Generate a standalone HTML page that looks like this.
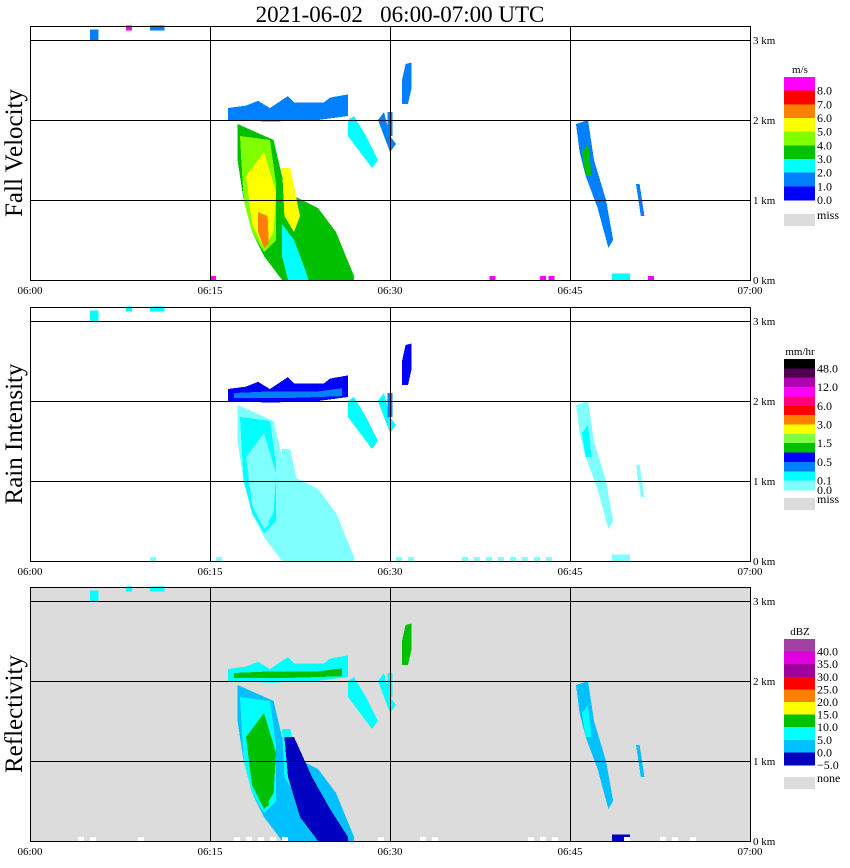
<!DOCTYPE html>
<html><head><meta charset="utf-8"><style>
html,body{margin:0;padding:0;background:#fff;width:850px;height:868px;overflow:hidden}
svg text{font-family:"Liberation Serif",serif}
</style></head><body>
<svg id="chart" width="850" height="868" xmlns="http://www.w3.org/2000/svg" shape-rendering="crispEdges">
<text x="400" y="22" font-size="23" text-anchor="middle" xml:space="preserve" style="white-space:pre">2021-06-02   06:00-07:00 UTC</text>
<g id="panels"></g>
</svg>
<script>
// ---- data (time in minutes after 06:00, height in km) ----
const shapeNames = ["top-left-a","top-left-b","top-left-c","band-outer","band-inner","shaft-outer","shaft-left-core","shaft-yellow","orange-core","cyan-patch","second-streak","dbz-dark-core","streak-27","streak-29","line-30","streak-31","east-streak","east-inner","east-right","bottom-blob-49"];
const shapePoints = [
 [[5,3.0],[5,3.13],[5.7,3.13],[5.7,3.0]],
 [[8,3.12],[8,3.18],[8.5,3.18],[8.5,3.12]],
 [[10,3.12],[10,3.18],[11.2,3.18],[11.2,3.12]],
 [[16.5,2.0],[16.5,2.15],[18,2.18],[19,2.24],[20,2.15],[21.5,2.3],[22,2.22],[24.5,2.22],[25,2.28],[26.5,2.32],[26.5,2.05],[24,2.0],[20,1.98]],
 [[17,2.04],[17,2.1],[20,2.12],[24,2.12],[26,2.16],[26,2.06],[22,2.04]],
 [[17.3,1.95],[20.3,1.75],[21,1.3],[22,1.05],[24,0.9],[25.5,0.6],[27,0.05],[27,0],[21,0],[19.5,0.3],[18.5,0.6],[17.8,1.0],[17.3,1.5]],
 [[17.5,1.8],[20,1.75],[20.5,1.2],[20.5,0.5],[19.5,0.35],[18.5,0.6],[17.8,1.0]],
 [[18,1.3],[19.5,1.6],[20.5,1.1],[20.3,0.6],[19.5,0.4],[18.5,0.7]],
 [[19,0.85],[19.8,0.8],[19.9,0.45],[19.5,0.4],[19,0.6]],
 [[21,0.7],[22,0.5],[23,0.1],[23.2,0],[21.5,0],[21,0.3]],
 [[21,1.4],[21.7,1.4],[22.5,0.8],[22,0.6],[21.2,0.8]],
 [[21.2,1.3],[22,1.3],[23.5,0.8],[25,0.4],[26.5,0.05],[26.5,0],[24,0],[22.5,0.3],[21.5,0.8]],
 [[26.5,2.0],[27,2.05],[28,1.8],[29,1.5],[28.5,1.4],[27.5,1.6],[26.5,1.8]],
 [[29,2.0],[29.5,2.1],[30,1.8],[30.5,1.7],[30,1.6]],
 [[29.8,1.8],[29.8,2.1],[30.2,2.1],[30.2,1.8]],
 [[31,2.2],[31,2.5],[31.3,2.7],[31.8,2.72],[31.8,2.4],[31.5,2.2]],
 [[45.5,1.95],[46.5,2.0],[47,1.5],[48,1.0],[48.6,0.5],[48.2,0.4],[47.3,0.9],[46.3,1.3],[45.8,1.6]],
 [[46,1.6],[46.5,1.7],[46.8,1.3],[46.3,1.3]],
 [[50.5,1.2],[50.8,1.2],[51.2,0.8],[50.9,0.8]],
 [[48.5,0],[48.5,0.08],[50,0.08],[50,0]]
];
const fvValues   = [1.5,8.5,1.5, 1.5,1.5, 3.5,4.5,5.5,6.5,2.5,5.5, null, 2.5,1.5,1.5,1.5, 1.5,3.5,1.5, 2.5];
const rainValues = [0.2,0.2,0.2, 0.7,0.3, 0.05,0.2,0.05,0.05,0.05,0.05, null, 0.2,0.2,0.3,0.7, 0.05,0.2,0.05, 0.05];
const dbzValues  = [7,7,7, 7,12, 2,7,12,12,null,7, -2, 7,7,7,12, 2,7,2, -2];
const fvDotTimes = [15,38.3,42.5,43.2,51.5];
const rainDotTimes = [10,15.5,25.5,26.5,30.5,31.5,36,37,38,39,40,41,42,43,48.5,49.5];
const dbzDotTimes = [4,5,9,17,18,19,20,21,29,32.5,33.5,41.5,42.5,43.5,49.5,52.5,53.5,55];
const xTickLabels = ["06:00","06:15","06:30","06:45","07:00"];
const kmLabels = ["0 km","1 km","2 km","3 km"];
const fvColors = ["#0000ff","#0080ff","#00ffff","#00c000","#80ff00","#ffff00","#ff8000","#ff0000","#ff00ff"];
const fvLabels = ["8.0","7.0","6.0","5.0","4.0","3.0","2.0","1.0","0.0"];
const rainColors = ["#80ffff","#00ffff","#0080ff","#0000ff","#00c000","#80ff40","#ffff00","#ff8000","#ff0000","#ff0080","#ff00ff","#b000b0","#500050","#000000"];
const rainThresh = [0.1,0.25,0.5,1,1.5,2,3,4,6,8,12,24,48];
const dbzColors = ["#0000c0","#00c0ff","#00ffff","#00c000","#ffff00","#ff8000","#ff0000","#a000a0","#e000e0","#a040a0"];
const dbzLabels = ["40.0","35.0","30.0","25.0","20.0","15.0","10.0","5.0","0.0","\u22125.0"];

const NS="http://www.w3.org/2000/svg";
const bases=[280,561,841];
const xs=t=>30+12*t;
const ys=(h,p)=>bases[p]-80*h;
function fvColor(v){return fvColors[Math.max(0,Math.min(8,Math.floor(v)))];}
function rainColor(v){let i=0;while(i<rainThresh.length&&v>=rainThresh[i])i++;return rainColors[i];}
function dbzColor(v){return dbzColors[Math.max(0,Math.min(9,Math.floor((v+5)/5)))];}
const g=document.getElementById('panels');
function mk(tag,attrs,parent){const e=document.createElementNS(NS,tag);for(const k in attrs)e.setAttribute(k,attrs[k]);(parent||g).appendChild(e);return e;}
function txt(s,attrs,parent){const e=mk('text',attrs,parent);e.textContent=s;return e;}

const panelNames=["fall-velocity","rain-intensity","reflectivity"];
const titles=["Fall Velocity","Rain Intensity","Reflectivity"];
const valueSets=[fvValues,rainValues,dbzValues];
const colorFns=[fvColor,rainColor,dbzColor];
const dotSets=[fvDotTimes,rainDotTimes,dbzDotTimes];
const dotColors=["#ff00ff","#80ffff","#ffffff"];

for(let p=0;p<3;p++){
  const pg=mk('g',{});
  
  
  const top=bases[p]-254;
  const bg=mk('rect',{x:30,y:top,width:720,height:254,fill:p==2?'#dcdcdc':'#ffffff'},pg);
  
  
  for(let i=0;i<shapePoints.length;i++){
    const v=valueSets[p][i]; if(v===null) continue;
    const pts=shapePoints[i].map(q=>xs(q[0])+','+ys(q[1],p)).join(' ');
    const poly=mk('polygon',{points:pts,fill:colorFns[p](v)},pg);
    
    
  }
  for(const t of dotSets[p]){
    const d=mk('rect',{x:xs(t),y:bases[p]-4,width:6,height:4,fill:dotColors[p]},pg);
    
    
  }
  for(let k=1;k<=3;k++){
    const l=mk('line',{x1:30,x2:750,y1:ys(k,p)+0.5,y2:ys(k,p)+0.5,stroke:'#000'},pg);
    
    
  }
  for(let k=1;k<=3;k++){
    const l=mk('line',{x1:xs(15*k)+0.5,x2:xs(15*k)+0.5,y1:top,y2:bases[p],stroke:'#000'},pg);
    
    
  }
  const fr=mk('rect',{x:30.5,y:top+0.5,width:720,height:254,fill:'none',stroke:'#000'},pg);
  
  
  for(let k=0;k<5;k++){
    const t=txt(xTickLabels[k],{x:xs(15*k),y:bases[p]+14,'font-size':11,'text-anchor':'middle'},pg);
    
    
  }
  for(let k=0;k<4;k++){
    const t=txt(kmLabels[k],{x:753,y:ys(k,p)+4,'font-size':11},pg);
    
    
  }
  const yt=txt(titles[p],{x:0,y:0,'font-size':25,'text-anchor':'middle',transform:'translate(22,'+(bases[p]-127)+') rotate(-90)'},pg);
  
  
}

// legends
function legend(colorsTopDown,top,bottom,unit,labels,labelIdx,missTop,missText,name){
  const lg=mk('g',{});
  
  
  const n=colorsTopDown.length,h=(bottom-top)/n;
  const u=txt(unit,{x:800,y:top-4,'font-size':11,'text-anchor':'middle'},lg);
  
  
  for(let i=0;i<n;i++){
    const r=mk('rect',{x:784,y:top+i*h,width:31,height:h+0.5,fill:colorsTopDown[i]},lg);
    
    
  }
  for(let j=0;j<labels.length;j++){
    const t=txt(labels[j],{x:817,y:top+labelIdx[j]*h+4,'font-size':12},lg);
    
    
  }
  const m=mk('rect',{x:784,y:missTop,width:31,height:12,fill:'#dcdcdc'},lg);
  
  
  const mt=txt(missText,{x:817,y:missTop+5,'font-size':12},lg);
  
  
}
legend(fvColors.slice().reverse(),77,200,"m/s",fvLabels,[1,2,3,4,5,6,7,8,9],214,"miss","fall-velocity-legend");
legend(rainColors.slice().reverse(),359,490,"mm/hr",["48.0","12.0","6.0","3.0","1.5","0.5","0.1","0.0"],[1,3,5,7,9,11,13,14],498,"miss","rain-intensity-legend");
legend(dbzColors.slice().reverse(),639,765,"dBZ",dbzLabels,[1,2,3,4,5,6,7,8,9,10],777,"none","reflectivity-legend");
</script>
</body></html>
